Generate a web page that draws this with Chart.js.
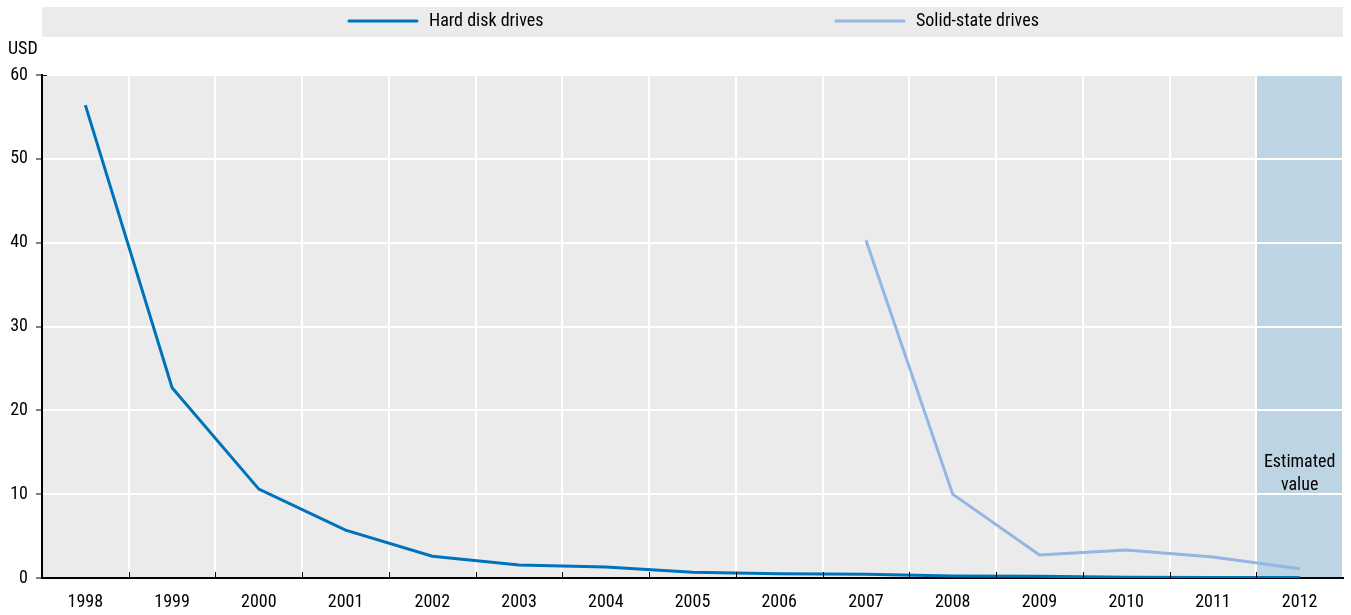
<!DOCTYPE html>
<html lang="en">
  <head>
    <meta charset="UTF-8" />
    <title>Storage cost per gigabyte</title>
    <script src="https://cdn.jsdelivr.net/npm/chart.js@4.4.0/dist/chart.umd.min.js"></script>
    <style>
      html, body { margin: 0; padding: 0; background: #fff; }
      #wrap { width: 1351px; height: 615px; position: relative; }
    </style>
  </head>
  <body>
    <div id="wrap"><canvas id="chart"></canvas></div>
    <script>
      const years = ['1998', '1999', '2000', '2001', '2002', '2003', '2004', '2005', '2006', '2007', '2008', '2009', '2010', '2011', '2012']
      const hardDisk = [56.4, 22.7, 10.6, 5.7, 2.6, 1.55, 1.3, 0.7, 0.5, 0.45, 0.25, 0.2, 0.08, 0.07, 0.06]
      const solidState = [null, null, null, null, null, null, null, null, null, 40.3, 10.0, 2.75, 3.35, 2.5, 1.1]
      const yTicks = [0, 10, 20, 30, 40, 50, 60]
      const estimatedYear = '2012'

      const FONT = "'Liberation Sans Narrow', 'Arial Narrow', 'Roboto Condensed', sans-serif"

      // background, legend band, estimate shading, inner ticks
      const decor = {
        id: 'decor',
        beforeDraw(chart) {
          const { ctx, chartArea: a, scales } = chart
          ctx.save()
          ctx.fillStyle = '#ebebeb'
          ctx.fillRect(a.left, a.top, a.right - a.left, a.bottom - a.top)
          // legend band
          ctx.fillRect(a.left, 7, a.right - a.left, 30)
          // estimated value band
          const i = years.indexOf(estimatedYear)
          const half = (scales.x.getPixelForValue(1) - scales.x.getPixelForValue(0)) / 2
          const xc = scales.x.getPixelForValue(i)
          ctx.fillStyle = '#bdd5e3'
          ctx.fillRect(xc - half, a.top, a.right - (xc - half), a.bottom - a.top)
          ctx.restore()
        },
        afterDraw(chart) {
          const { ctx, chartArea: a, scales } = chart
          ctx.save()
          // legend entries
          const items = [
            { x: 349, ds: chart.data.datasets[0] },
            { x: 836, ds: chart.data.datasets[1] }
          ]
          ctx.font = '18px ' + FONT
          ctx.textBaseline = 'middle'
          items.forEach((it) => {
            ctx.strokeStyle = it.ds.borderColor
            ctx.lineWidth = 3
            ctx.lineCap = 'round'
            ctx.beginPath()
            ctx.moveTo(it.x, 21)
            ctx.lineTo(it.x + 68, 21)
            ctx.stroke()
            ctx.fillStyle = '#000'
            ctx.fillText(it.ds.label, it.x + 80, 21)
          })
          // inner x ticks at category boundaries
          ctx.strokeStyle = '#000'
          ctx.lineWidth = 1
          ctx.lineCap = 'butt'
          const half = (scales.x.getPixelForValue(1) - scales.x.getPixelForValue(0)) / 2
          for (let k = 1; k < years.length; k++) {
            const x = Math.round(scales.x.getPixelForValue(k) - half) + 0.5
            ctx.beginPath()
            ctx.moveTo(x, a.bottom)
            ctx.lineTo(x, a.bottom - 6)
            ctx.stroke()
          }
          // top tick
          ctx.beginPath()
          ctx.moveTo(a.left, a.top + 0.5)
          ctx.lineTo(a.left + 5, a.top + 0.5)
          ctx.stroke()
          // USD unit
          ctx.fillStyle = '#000'
          ctx.textAlign = 'left'
          ctx.fillText('USD', 8, 49)
          // estimated label
          const xc = scales.x.getPixelForValue(years.indexOf(estimatedYear))
          ctx.textAlign = 'center'
          ctx.fillText('Estimated', xc, 462)
          ctx.fillText('value', xc, 485)
          ctx.restore()
        }
      }

      const ctx = document.getElementById('chart').getContext('2d')
      const myChart = new Chart(ctx, {
        type: 'line',
        data: {
          labels: years,
          datasets: [
            {
              label: 'Hard disk drives',
              data: hardDisk,
              borderColor: '#0072bc',
              borderWidth: 3,
              pointRadius: 0,
              tension: 0
            },
            {
              label: 'Solid-state drives',
              data: solidState,
              borderColor: '#93b6e2',
              borderWidth: 3,
              pointRadius: 0,
              tension: 0
            }
          ]
        },
        options: {
          responsive: true,
          maintainAspectRatio: false,
          animation: false,
          layout: { padding: { top: 75, right: 8, left: 0, bottom: 0 } },
          plugins: { legend: { display: false }, tooltip: { enabled: false } },
          scales: {
            x: {
              offset: true,
              grid: { offset: true, color: '#ffffff', lineWidth: 2, drawTicks: false },
              border: { color: '#000', width: 2 },
              ticks: { color: '#000', font: { family: FONT, size: 18 }, padding: 14, maxRotation: 0 },
              afterFit(scale) { scale.height = 37 }
            },
            y: {
              min: 0,
              max: 60,
              afterBuildTicks(scale) { scale.ticks = yTicks.map((v) => ({ value: v })) },
              grid: { color: '#ffffff', lineWidth: 2, tickColor: '#000', tickLength: 6, tickWidth: 1 },
              border: { color: '#000', width: 2 },
              ticks: { color: '#000', font: { family: FONT, size: 18 }, padding: 8 },
              afterFit(scale) { scale.width = 42 }
            }
          }
        },
        plugins: [decor]
      })
    </script>
  </body>
</html>
